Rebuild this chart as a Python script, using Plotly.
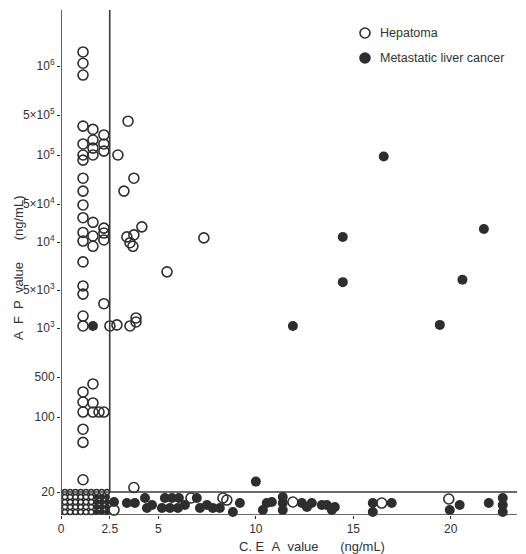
import numpy as np
import plotly.graph_objects as go

# ---------------- scale definition (AFP axis, broken / piecewise scale) ----------------
SCALE_VALUES = [0, 20, 100, 500, 1e3, 5e3, 1e4, 5e4, 1e5, 5e5, 1e6]
SCALE_POS = [0, 23, 98, 138, 187, 225, 273, 311, 360, 400, 449]

Y_TICK_VALUES = [20, 100, 500, 1e3, 5e3, 1e4, 5e4, 1e5, 5e5, 1e6]
Y_TICK_LABELS = ["20", "100", "500", "10<sup>3</sup>", "5×10<sup>3</sup>", "10<sup>4</sup>",
                 "5×10<sup>4</sup>", "10<sup>5</sup>", "5×10<sup>5</sup>", "10<sup>6</sup>"]
X_TICK_VALUES = [0, 2.5, 5, 10, 15, 20]
X_TICK_LABELS = ["0", "2.5", "5", "10", "15", "20"]

SERIES_NAMES = ["Hepatoma", "Metastatic liver cancer"]

# ---------------- data (CEA ng/mL, AFP ng/mL) ----------------
# Hepatoma (open circles)
hep_cea = [1.13, 1.13, 1.13, 1.13, 1.13, 1.13, 1.13, 1.13, 1.13, 1.13, 1.13, 1.13,
           1.13, 1.13, 1.13, 1.13, 1.13, 1.13, 1.13, 1.13, 1.13, 1.13, 1.13, 1.13,
           1.64, 1.64, 1.64, 1.64, 1.64, 1.64, 1.64, 1.64, 1.64, 1.64,
           2.2, 2.2, 2.2, 2.2, 2.2, 2.2, 2.2, 2.2, 1.95,
           2.92, 3.44, 3.74, 3.23, 4.15, 3.38, 3.74, 3.54, 3.69, 7.33, 5.44,
           2.51, 2.87, 3.54, 3.85, 3.85, 3.74,
           2.72, 6.67, 8.31, 8.51, 11.9, 16.46, 19.9]
hep_afp = [1.22e6, 1.04e6, 8.8e5, 3.2e5, 1.56e5, 1.0e5, 9.3e4, 7.2e4, 6.0e4, 4.8e4, 2.8e4, 1.5e4,
           1.04e4, 7.5e3, 5.3e3, 4.2e3, 1.66e3, 1.09e3, 274, 183, 122, 77, 58, 26,
           2.8e5, 1.83e5, 1.32e5, 1.0e5, 2.3e4, 1.29e4, 9.4e3, 378, 176, 122,
           2.24e5, 1.56e5, 1.17e5, 1.8e4, 1.46e4, 1.09e4, 2.8e3, 122, 122,
           1.0e5, 3.9e5, 7.2e4, 6.0e4, 1.9e4, 1.24e4, 1.35e4, 9.9e3, 9.4e3, 1.19e4, 6.5e3,
           1.09e3, 1.14e3, 1.09e3, 1.53e3, 1.29e3, 22,
           4.3, 14.8, 14.8, 13.0, 11.3, 10.4, 13.9]

# Metastatic liver cancer (filled circles)
met_cea = [1.64, 11.9, 16.56, 14.46, 14.46, 21.7, 20.6, 19.44, 10.0,
           2.72, 3.38, 3.79, 4.31, 4.41, 4.67, 5.33, 5.69, 6.05, 5.18, 5.59, 6.0, 6.36,
           6.97, 7.13, 7.49, 7.79, 8.15, 8.82, 9.18, 10.36, 10.56, 10.82, 11.38, 11.38,
           11.38, 12.36, 12.62, 12.87, 13.38, 13.64, 13.9, 14.05, 16.0, 16.0, 16.97,
           19.95, 20.46, 21.95, 22.67, 22.67, 22.67]
met_afp = [1.09e3, 1.09e3, 9.8e4, 1.24e4, 5.6e3, 1.73e4, 5.8e3, 1.14e3, 25,
           11.3, 10.4, 10.4, 14.8, 6.1, 8.7, 14.8, 14.8, 14.8, 6.1, 6.1, 6.1, 8.7,
           14.8, 6.1, 8.7, 6.1, 6.1, 2.6, 10.4, 4.3, 10.4, 11.3, 15.7, 10.4,
           4.3, 10.4, 7.0, 10.4, 8.7, 8.7, 4.3, 7.0, 10.4, 2.6, 10.4,
           4.3, 8.7, 10.4, 14.8, 8.7, 2.6]

# Crowded low cases (CEA < 2.5, AFP < 20), drawn with small symbols
hep_low_cea = [0.2, 0.47, 0.74, 1.01, 1.28, 1.55, 1.82, 2.09, 2.36,
               0.2, 0.47, 0.74, 1.01, 1.28, 1.55,
               0.2, 0.47, 0.74, 1.01, 1.28, 1.55,
               0.2, 0.47, 0.74, 1.01, 1.28, 1.55,
               0.2, 0.47, 0.74, 1.01, 1.28, 1.55]
hep_low_afp = [20, 20, 20, 20, 20, 20, 20, 20, 20,
               15.7, 15.7, 15.7, 15.7, 15.7, 15.7,
               11.3, 11.3, 11.3, 11.3, 11.3, 11.3,
               7.0, 7.0, 7.0, 7.0, 7.0, 7.0,
               2.6, 2.6, 2.6, 2.6, 2.6, 2.6]
met_low_cea = [1.82, 2.09, 2.36, 1.82, 2.09, 2.36, 1.82, 2.09, 2.36, 1.82, 2.09, 2.36]
met_low_afp = [15.7, 15.7, 15.7, 11.3, 11.3, 11.3, 7.0, 7.0, 7.0, 2.6, 2.6, 2.6]


def to_pos(values):
    """Map AFP values onto the chart's piecewise (broken) vertical scale."""
    lv = np.log10(SCALE_VALUES[1:])
    lp = np.array(SCALE_POS[1:], dtype=float)
    out = []
    for v in values:
        if v <= 20:
            out.append(v / 20 * SCALE_POS[1])
        elif v > SCALE_VALUES[-1]:
            slope = (lp[-1] - lp[-2]) / (lv[-1] - lv[-2])
            out.append(lp[-1] + (np.log10(v) - lv[-1]) * slope)
        else:
            out.append(float(np.interp(np.log10(v), lv, lp)))
    return out


INK = "#2e2e2e"
FONT = "Liberation Sans Narrow, Arial Narrow, Liberation Sans, sans-serif"
LFONT = "Liberation Sans, Arial, sans-serif"
X_MAX = 23.4
Y_TOP = 505

fig = go.Figure()
fig.add_trace(go.Scatter(
    x=hep_cea, y=to_pos(hep_afp), mode="markers", name=SERIES_NAMES[0], showlegend=False,
    cliponaxis=False,
    marker=dict(symbol="circle-open", size=10, color=INK, line=dict(width=1.6, color=INK))))
fig.add_trace(go.Scatter(
    x=met_cea, y=to_pos(met_afp), mode="markers", name=SERIES_NAMES[1], showlegend=False,
    cliponaxis=False,
    marker=dict(symbol="circle", size=10, color=INK, line=dict(width=0))))
fig.add_trace(go.Scatter(
    x=hep_low_cea, y=to_pos(hep_low_afp), mode="markers", showlegend=False, cliponaxis=False,
    name=SERIES_NAMES[0],
    marker=dict(symbol="circle-open", size=5, color=INK, line=dict(width=1.4, color=INK))))
fig.add_trace(go.Scatter(
    x=met_low_cea, y=to_pos(met_low_afp), mode="markers", showlegend=False, cliponaxis=False,
    name=SERIES_NAMES[1],
    marker=dict(symbol="circle", size=6, color=INK, line=dict(width=0))))

line = dict(color="#3a3a3a", width=1.6)
pos20 = to_pos([20])[0]
shapes = [
    dict(type="line", xref="x", yref="y", x0=0, x1=0, y0=0, y1=Y_TOP, line=line),
    dict(type="line", xref="x", yref="y", x0=2.5, x1=2.5, y0=pos20, y1=Y_TOP, line=line),
    dict(type="line", xref="x", yref="y", x0=0, x1=X_MAX, y0=pos20, y1=pos20, line=line),
    dict(type="line", xref="x", yref="y", x0=0, x1=X_MAX, y0=0, y1=0, line=line),
]

# legend glyphs (key), placed in paper coordinates
PLOT_L, PLOT_W, PLOT_B, PLOT_H = 61, 456, 39, 505
def px_to_paper(px, py):
    return (px - PLOT_L) / PLOT_W, (554 - PLOT_B - py) / PLOT_H

for (kx, ky), filled in [((365, 33), False), ((365, 58), True)]:
    px, py = px_to_paper(kx, ky)
    shapes.append(dict(type="circle", xref="paper", yref="paper", xsizemode="pixel",
                       ysizemode="pixel", xanchor=px, yanchor=py, x0=-5, x1=5, y0=-5, y1=5,
                       line=dict(color=INK, width=1.6),
                       fillcolor=INK if filled else "rgba(0,0,0,0)"))

NB = "\u00a0"
xt_x, xt_y = px_to_paper(312, 546)
yt_x, yt_y = px_to_paper(18, 268)
annotations = [
    dict(text="C." + NB + "E" + NB * 2 + "A" + NB * 2 + "value" + NB * 6 + "(ng/mL)",
         xref="paper", yref="paper", x=xt_x, y=xt_y, showarrow=False,
         xanchor="center", yanchor="middle", font=dict(family=LFONT, size=13, color="#333")),
    dict(text="A" + NB * 2 + "F" + NB * 2 + "P" + NB * 2 + "value" + NB * 6 + "(ng/mL)",
         xref="paper", yref="paper", x=yt_x, y=yt_y, showarrow=False, textangle=-90,
         xanchor="center", yanchor="middle", font=dict(family=LFONT, size=13, color="#333")),
]
for name, (tx, ty) in zip(SERIES_NAMES, [(378, 33), (378, 58)]):
    px, py = px_to_paper(tx, ty)
    annotations.append(dict(text=name, xref="paper", yref="paper", x=px, y=py,
                            showarrow=False, xanchor="left", yanchor="middle",
                            font=dict(family=LFONT, size=12.5, color="#333")))
for yy in (9, 4):
    annotations.append(dict(x=23.65, y=yy, xref="x", yref="y", ax=-9, ay=0, showarrow=True,
                            arrowhead=2, arrowsize=0.8, arrowwidth=1.2, arrowcolor=INK, text=""))

fig.update_layout(
    width=526, height=554,
    margin=dict(l=PLOT_L, r=526 - PLOT_L - PLOT_W, t=554 - PLOT_B - PLOT_H, b=PLOT_B,
                autoexpand=False),
    paper_bgcolor="white", plot_bgcolor="white",
    font=dict(family=FONT, size=12, color="#333"),
    showlegend=False,
    xaxis=dict(range=[0, X_MAX], tickvals=X_TICK_VALUES, ticktext=X_TICK_LABELS,
               showgrid=False, zeroline=False, showline=False, ticks="outside", ticklen=3,
               tickcolor=INK, tickfont=dict(family=FONT, size=12, color="#333")),
    yaxis=dict(range=[0, Y_TOP], tickvals=to_pos(Y_TICK_VALUES), ticktext=Y_TICK_LABELS,
               showgrid=False, zeroline=False, showline=False, ticks="outside", ticklen=3,
               tickcolor=INK, tickfont=dict(family=FONT, size=12, color="#333")),
    shapes=shapes, annotations=annotations,
)

fig.write_html("out.html", config={"displayModeBar": False},
               post_script="document.body.style.margin='0';document.body.style.overflow='hidden';")
